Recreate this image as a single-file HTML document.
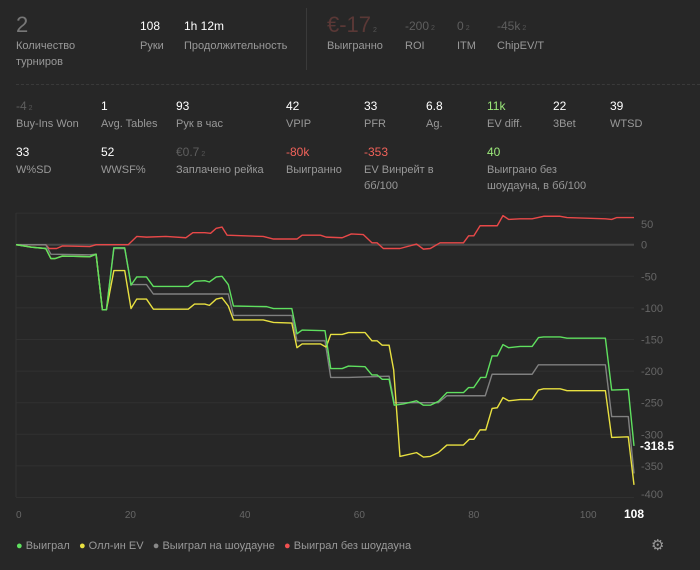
<!DOCTYPE html>
<html><head><meta charset="utf-8"><style>
body{margin:0;background:#272727;width:700px;height:570px;overflow:hidden;font-family:"Liberation Sans","DejaVu Sans",sans-serif;color:#999}
.s{position:absolute;font-size:11px;line-height:16px}
.v{position:absolute;font-size:12px;color:#fff}
.d{color:#5e5e5e;font-size:12px}
.sub{font-size:7px;color:#555;margin-left:2px}
</style></head><body>
<div>
<div class="v" style="left:16px;top:12px;font-size:22px;color:#777">2</div>
<div class="s" style="left:16px;top:38px">Количество<br>турниров</div>
<div class="v" style="left:140px;top:19px">108</div>
<div class="s" style="left:140px;top:38px">Руки</div>
<div class="v" style="left:184px;top:19px">1h 12m</div>
<div class="s" style="left:184px;top:38px">Продолжительность</div>
<div style="position:absolute;left:306px;top:8px;width:1px;height:62px;background:#3a3a3a"></div>
<div class="v" style="left:327px;top:12px;font-size:22px;color:#5a3836">€-17<span class="sub">2</span></div>
<div class="s" style="left:327px;top:38px">Выигранно</div>
<div class="v d" style="left:405px;top:19px">-200<span class="sub">2</span></div>
<div class="s" style="left:405px;top:38px">ROI</div>
<div class="v d" style="left:457px;top:19px">0<span class="sub">2</span></div>
<div class="s" style="left:457px;top:38px">ITM</div>
<div class="v d" style="left:497px;top:19px">-45k<span class="sub">2</span></div>
<div class="s" style="left:497px;top:38px">ChipEV/T</div>
<div style="position:absolute;left:16px;right:0;top:84px;border-top:1px dashed #3a3a3a"></div>

<div class="v d" style="left:16px;top:99px">-4<span class="sub">2</span></div>
<div class="s" style="left:16px;top:116px">Buy-Ins Won</div>
<div class="v" style="left:101px;top:99px">1</div>
<div class="s" style="left:101px;top:116px">Avg. Tables</div>
<div class="v" style="left:176px;top:99px">93</div>
<div class="s" style="left:176px;top:116px">Рук в час</div>
<div class="v" style="left:286px;top:99px">42</div>
<div class="s" style="left:286px;top:116px">VPIP</div>
<div class="v" style="left:364px;top:99px">33</div>
<div class="s" style="left:364px;top:116px">PFR</div>
<div class="v" style="left:426px;top:99px">6.8</div>
<div class="s" style="left:426px;top:116px">Ag.</div>
<div class="v" style="left:487px;top:99px;color:#9be87a">11k</div>
<div class="s" style="left:487px;top:116px">EV diff.</div>
<div class="v" style="left:553px;top:99px">22</div>
<div class="s" style="left:553px;top:116px">3Bet</div>
<div class="v" style="left:610px;top:99px">39</div>
<div class="s" style="left:610px;top:116px">WTSD</div>

<div class="v" style="left:16px;top:145px">33</div>
<div class="s" style="left:16px;top:162px">W%SD</div>
<div class="v" style="left:101px;top:145px">52</div>
<div class="s" style="left:101px;top:162px">WWSF%</div>
<div class="v d" style="left:176px;top:145px">€0.7<span class="sub">2</span></div>
<div class="s" style="left:176px;top:162px">Заплачено рейка</div>
<div class="v" style="left:286px;top:145px;color:#f0625a">-80k</div>
<div class="s" style="left:286px;top:162px">Выигранно</div>
<div class="v" style="left:364px;top:145px;color:#f0625a">-353</div>
<div class="s" style="left:364px;top:162px">EV Винрейт в<br>бб/100</div>
<div class="v" style="left:487px;top:145px;color:#9be87a">40</div>
<div class="s" style="left:487px;top:162px">Выиграно без<br>шоудауна, в бб/100</div>
</div>

<svg id="chart" width="700" height="570" style="position:absolute;left:0;top:0"></svg>

<div style="position:absolute;left:16px;top:540px;font-size:11px;color:#999;white-space:nowrap">
<span><span style="color:#5fe05f">●</span> Выиграл</span>&nbsp;&nbsp;
<span><span style="color:#e8e040">●</span> Олл-ин EV</span>&nbsp;&nbsp;
<span><span style="color:#888">●</span> Выиграл на шоудауне</span>&nbsp;&nbsp;
<span><span style="color:#f05050">●</span> Выиграл без шоудауна</span>
</div>
<div style="position:absolute;left:651px;top:536px;font-size:15px;color:#999">⚙</div>

<script>
const yTicks=[50,0,-50,-100,-150,-200,-250,-300,-350,-400];
const xTicks=[0,20,40,60,80,100];
const greenX=[0,2.7,5.2,6.1,6.8,8.1,12.9,14,15.1,15.8,17.1,19,20.1,21.1,22.8,24,30.1,31.2,33,33.8,35,36,37.1,38,43.8,45,48.2,49.1,50,54,55,57,58.1,61,62.2,63.1,64,65.2,66.1,67.7,70,71.2,72.4,73.8,75.3,78.2,79.1,80,81.2,82.1,83.2,84.1,85.1,86.1,88.1,90.2,91.3,92.2,95.1,96.3,103,104.1,107,108];
const greenY=[0,-4,-6,-22,-22,-18,-19,-15,-103,-103,-5,-5,-64,-51,-51,-66,-66,-58,-57,-59,-51,-50,-63,-97,-98,-101,-101,-141,-135,-136,-196,-196,-192,-193,-206,-206,-213,-213,-254,-252,-247,-254,-254,-248,-234,-234,-226,-226,-210,-210,-176,-176,-158,-163,-161,-161,-147,-146,-146,-148,-148,-230,-229,-318.5];
const yellowX=[0,2.7,5.2,6.1,6.8,8.1,12.9,14,15.1,15.8,17.1,19,20.1,21.1,22.8,24,30.1,31.2,33,33.8,35,36,37.1,38,43.2,45,48.2,49.1,50,53.2,54.2,55,57,58.1,61,62.2,63.1,64,65.2,66,67.1,70,71.2,72.4,73.8,75.3,78.2,79.2,80,81.1,82.1,83.2,84.1,85.1,86.1,88.1,90.2,91.3,92.2,95.1,96.3,103,104.1,107,108];
const yellowY=[0,-4,-6,-22,-22,-18,-19,-15,-103,-103,-41,-41,-101,-86,-86,-102,-102,-94,-94,-96,-86,-84,-97,-119,-119,-123,-124,-163,-157,-157,-162,-142,-142,-139,-139,-152,-152,-159,-159,-198,-335,-329,-336,-335,-329,-317,-317,-308,-308,-293,-293,-259,-258,-242,-247,-245,-245,-230,-228,-228,-231,-231,-305,-304,-380];
const grayX=[0,5.2,6.1,12.9,14,15.1,15.8,17.1,19,20.1,22.8,24,37.1,38,48.2,49.1,54,55,58.1,65.2,66.1,73.8,75.3,82,83.2,90.2,91.3,103,104.1,107,108];
const grayY=[0,0,-15,-16,-15,-103,-103,-6,-6,-63,-63,-78,-78,-112,-112,-152,-152,-210,-210,-208,-250,-250,-239,-239,-205,-205,-190,-190,-272,-272,-362];
const redX=[0,5.2,5.8,7.1,8.1,12.9,14,19.6,21.1,22.8,26.2,29.7,30.9,33,34,35,36,36.9,43.2,45,49.1,50,53.2,54.2,57,58.6,60.7,62.2,63.1,64.2,67.1,70,71.2,72.4,74.1,78.2,79.1,80,81.1,84.1,85.1,86.1,88.1,90.2,92.2,95.1,96.3,103,104.1,105,108];
const redY=[0,0,-6,-6,-2,-3,0,0,13,12,13,11,19,19,18,26,28,15,13,9,9,15,15,12,11,17,16,3,3,-6,-6,1,-7,-6,3,3,14,14,30,30,46,40,41,41,45,45,43,41,40,43,43];
const lastValue="-318.5";

const svg=document.getElementById('chart');
const NS='http://www.w3.org/2000/svg';
const X0=16,X1=634,Y0=244.7,PPU=0.632;
function xs(v){return X0+(v/108)*(X1-X0);}
function ys(v){return Y0-v*PPU;}
function mk(t,a){const e=document.createElementNS(NS,t);for(const k in a)e.setAttribute(k,a[k]);svg.appendChild(e);return e;}
yTicks.forEach(t=>{
  const l=mk('line',{x1:X0,x2:X1,y1:ys(t),y2:ys(t),stroke:t===0?'#4a4a4a':'#313131','stroke-width':t===0?2:1});
  
  
  let yy=Math.min(Math.max(ys(t),224),494);
  const tx=mk('text',{x:641,y:yy+4,fill:'#666','font-size':11,'font-family':'Liberation Sans,sans-serif'});
  tx.textContent=t;
  
  
});
const ax=mk('line',{x1:X0,x2:X0,y1:213,y2:497,stroke:'#333'});


xTicks.forEach(t=>{
  const tx=mk('text',{x:xs(t),y:518,fill:'#666','font-size':10,'text-anchor':t===0?'start':'middle','font-family':'Liberation Sans,sans-serif'});
  tx.textContent=t;
  
  
});
const lx=mk('text',{x:xs(108),y:518,fill:'#fff','font-size':12,'font-weight':'bold','text-anchor':'middle','font-family':'Liberation Sans,sans-serif'});
lx.textContent='108';


function series(X,Y,c,name){
  const p=mk('polyline',{points:X.map((x,i)=>xs(x)+','+ys(Y[i])).join(' '),fill:'none',stroke:c,'stroke-width':1.4,'stroke-linejoin':'round'});
  
  
}
series(redX,redY,'#e84848','line-won-without-showdown');
series(grayX,grayY,'#808080','line-won-at-showdown');
series(yellowX,yellowY,'#e8e040','line-allin-ev');
series(greenX,greenY,'#5fe05f','line-won');
const lv=mk('text',{x:640,y:ys(greenY[greenY.length-1])+4,fill:'#fff','font-size':12,'font-weight':'bold','font-family':'Liberation Sans,sans-serif'});
lv.textContent=lastValue;


</script>
</body></html>
